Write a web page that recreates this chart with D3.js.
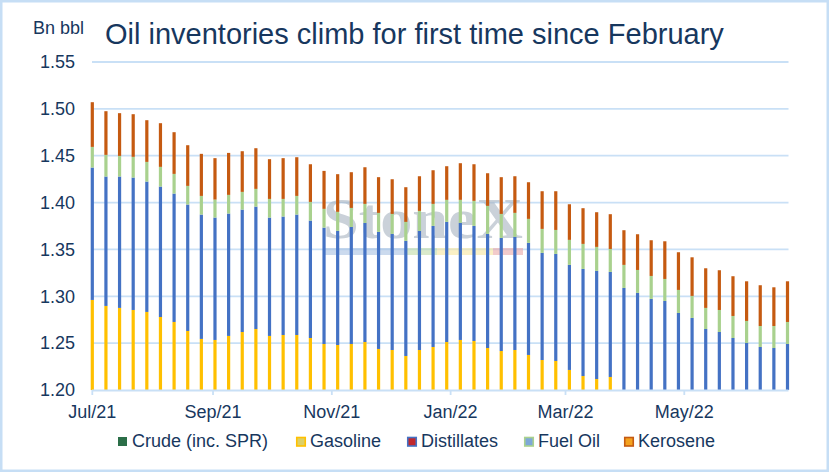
<!DOCTYPE html>
<html>
<head>
<meta charset="utf-8">
<script src="https://cdn.jsdelivr.net/npm/d3@7"></script>
<style>
  body { margin: 0; background: #fff; }
  text { font-family: "Liberation Sans", Arial, sans-serif; }
</style>
</head>
<body>
<div id="chart"></div>
<script>
// Weekly stocks, million barrels (week ending)
var weeks = [
  "2021-07-02","2021-07-09","2021-07-16","2021-07-23","2021-07-30","2021-08-06","2021-08-13","2021-08-20",
  "2021-08-27","2021-09-03","2021-09-10","2021-09-17","2021-09-24","2021-10-01","2021-10-08","2021-10-15",
  "2021-10-22","2021-10-29","2021-11-05","2021-11-12","2021-11-19","2021-11-26","2021-12-03","2021-12-10",
  "2021-12-17","2021-12-24","2021-12-31","2022-01-07","2022-01-14","2022-01-21","2022-01-28","2022-02-04",
  "2022-02-11","2022-02-18","2022-02-25","2022-03-04","2022-03-11","2022-03-18","2022-03-25","2022-04-01",
  "2022-04-08","2022-04-15","2022-04-22","2022-04-29","2022-05-06","2022-05-13","2022-05-20","2022-05-27",
  "2022-06-03","2022-06-10","2022-06-17","2022-06-24"
];

var crude = [
  1059.1, 1053.7, 1053.1, 1052.4, 1054.3, 1050.4, 1045.6, 1041.5, 1036.5, 1038.4, 1039.2, 1039.9, 1042.6,
  1042.7, 1044.2, 1041.2, 1040.5, 1035.6, 1036.0, 1036.6, 1035.7, 1027.8, 1024.2, 1013.8, 1012.7, 1010.9,
  1010.2, 1005.4, 1002.3, 998.3, 995.6, 998.2, 997.4, 993.5, 993.0, 989.4, 984.9, 981.2, 980.4, 967.9,
  967.6, 965.2, 962.5, 956.7, 953.9, 940.1, 936.4, 929.5, 924.2, 914.4, 904.3, 911.6
];
var gasoline = [
  237.0, 236.0, 234.5, 233.0, 229.0, 227.5, 227.0, 221.5, 218.0, 215.0, 218.5, 222.0, 222.5,
  215.0, 214.5, 217.5, 215.0, 213.5, 212.0, 212.5, 215.5, 216.0, 218.5, 222.5, 230.0, 235.0,
  241.0, 248.0, 250.0, 246.5, 246.0, 244.5, 240.0, 238.5, 238.0, 232.0, 230.0, 230.5, 233.5, 231.0,
  228.0, 225.0, 227.5, 221.5, 219.0, 220.0, 219.5, 219.0, 217.0, 221.5, 229.5, 225.5
];
var distillates = [
  141.3, 138.1, 140.2, 141.3, 139.1, 139.2, 137.0, 134.9, 132.7, 130.6, 130.6, 130.6, 130.6,
  126.3, 126.4, 128.5, 125.3, 124.2, 121.8, 124.9, 127.1, 124.9, 123.9, 122.8, 127.1, 129.2,
  128.2, 124.9, 122.8, 121.8, 120.7, 120.7, 119.6, 114.3, 114.2, 112.1, 114.3, 115.4, 112.1, 110.0,
  108.0, 107.0, 105.0, 104.0, 104.0, 105.0, 106.0, 107.0, 109.0, 110.0, 111.0, 112.0
];
var fuelOil = [
  22.0, 23.1, 22.0, 22.1, 21.0, 21.0, 21.0, 19.9, 19.9, 19.2, 19.9, 18.9, 18.9,
  19.9, 18.8, 19.9, 19.9, 20.0, 20.3, 20.3, 20.3, 20.3, 21.3, 20.3, 21.3, 23.5,
  23.5, 24.6, 26.7, 29.9, 25.6, 25.6, 25.6, 25.6, 25.6, 26.7, 26.7, 25.6, 24.5, 24.6,
  24.5, 24.5, 23.5, 24.6, 23.5, 22.5, 23.5, 23.5, 23.5, 22.4, 23.5, 23.5
];
var kerosene = [
  47.7, 46.6, 45.6, 45.5, 44.5, 46.6, 44.5, 43.4, 44.9, 44.2, 44.8, 43.4, 43.4,
  42.4, 43.5, 41.3, 40.2, 40.5, 40.2, 38.1, 39.1, 38.1, 37.0, 37.0, 37.0, 35.9,
  35.9, 39.1, 39.1, 34.8, 39.2, 39.1, 39.1, 40.2, 41.3, 38.0, 38.1, 37.0, 37.1, 37.0,
  38.1, 38.1, 40.2, 40.2, 41.2, 42.3, 42.4, 42.4, 42.3, 43.5, 41.3, 43.4
];

var seriesNames = ["Crude (inc. SPR)", "Gasoline", "Distillates", "Fuel Oil", "Kerosene"];
var yTicks = [1.20, 1.25, 1.30, 1.35, 1.40, 1.45, 1.50, 1.55];
var xTickDates = ["2021-07-02", "2021-09-02", "2021-11-02", "2022-01-02", "2022-03-02", "2022-05-02"];
var xTickLabels = ["Jul/21", "Sep/21", "Nov/21", "Jan/22", "Mar/22", "May/22"];

var barColors = ["#2B6E48", "#FFC000", "#4472C4", "#A9D18E", "#C55A11"];
// Excel legend swatches: fill + border
var legendFill = ["#2B6E48", "#DDD066", "#C0282D", "#7EA8D8", "#F4A21E"];
var legendStroke = [null, "#FFC000", "#4472C4", "#A9D18E", "#C55A11"];
var legendX = [118, 296, 407, 524, 624];

var width = 829, height = 472;
var margin = { top: 62, right: 41, bottom: 82, left: 92 };
var textColor = "#17375E";
var gridColor = "#C9E0F6";

var parseDate = d3.utcParse("%Y-%m-%d");

// build table for the stack
var keys = ["crude", "gasoline", "distillates", "fuelOil", "kerosene"];
var table = weeks.map(function(w, i) {
  return {
    date: parseDate(w),
    crude: crude[i] / 1000,
    gasoline: gasoline[i] / 1000,
    distillates: distillates[i] / 1000,
    fuelOil: fuelOil[i] / 1000,
    kerosene: kerosene[i] / 1000
  };
});
var stacked = d3.stack().keys(keys)(table);

var svg = d3.select("#chart")
  .append("svg")
  .attr("width", width)
  .attr("height", height);

svg.append("rect")
  .attr("x", 0).attr("y", 0)
  .attr("width", width).attr("height", height)
  .attr("fill", "#fff");

// outer frame
svg.append("rect")
  .attr("x", 1.25).attr("y", 1.25)
  .attr("width", width - 2.5).attr("height", height - 2.5)
  .attr("fill", "none")
  .attr("stroke", "#C6DEF5")
  .attr("stroke-width", 2.5);

var x = d3.scaleUtc()
  .domain([table[0].date, table[table.length - 1].date])
  .range([margin.left + 0.3, width - margin.right - 0.5]);

var y = d3.scaleLinear()
  .domain([1.20, 1.55])
  .range([height - margin.bottom, margin.top]);

// gridlines
svg.append("g")
  .selectAll("line")
  .data(yTicks.slice(1))
  .enter()
  .append("line")
  .attr("x1", margin.left)
  .attr("x2", width - margin.right + 0.5)
  .attr("y1", d => y(d))
  .attr("y2", d => y(d))
  .attr("stroke", gridColor)
  .attr("stroke-width", 1.8);

// y labels
svg.append("g")
  .selectAll("text")
  .data(yTicks)
  .enter()
  .append("text")
  .attr("x", 75)
  .attr("y", d => y(d))
  .attr("dy", "0.35em")
  .attr("text-anchor", "end")
  .attr("font-size", 18)
  .attr("fill", textColor)
  .text(d => d.toFixed(2));

svg.append("text")
  .attr("x", 33)
  .attr("y", 34)
  .attr("font-size", 18)
  .attr("fill", textColor)
  .text("Bn bbl");

svg.append("text")
  .attr("x", 105)
  .attr("y", 44)
  .attr("font-size", 29)
  .attr("fill", textColor)
  .text("Oil inventories climb for first time since February");

// watermark
var wm = svg.append("g").attr("opacity", 0.6);
wm.append("text")
  .attr("x", 323)
  .attr("y", 238)
  .style("font-family", "'Liberation Serif', 'DejaVu Serif', serif")
  .attr("font-weight", "bold")
  .attr("font-size", 56)
  .attr("textLength", 200)
  .attr("lengthAdjust", "spacingAndGlyphs")
  .attr("fill", "#A7B3C0")
  .text("StoneX");
var wmBands = [[323, 407, "#A9C3E3"], [407, 437, "#C3DDAA"], [437, 493, "#F8E7A0"], [493, 523, "#EBA9A9"]];
wm.selectAll("rect")
  .data(wmBands)
  .enter()
  .append("rect")
  .attr("x", d => d[0])
  .attr("y", 248)
  .attr("width", d => d[1] - d[0])
  .attr("height", 7)
  .attr("fill", d => d[2]);

// bars
svg.append("clipPath")
  .attr("id", "plotClip")
  .append("rect")
  .attr("x", 0)
  .attr("y", margin.top)
  .attr("width", width)
  .attr("height", height - margin.bottom - margin.top);

var barW = 3.2;
var barsGroup = svg.append("g").attr("clip-path", "url(#plotClip)");
barsGroup.selectAll("g")
  .data(stacked)
  .enter()
  .append("g")
  .attr("fill", (d, i) => barColors[i])
  .selectAll("rect")
  .data(d => d)
  .enter()
  .append("rect")
  .attr("x", d => x(d.data.date) - barW / 2)
  .attr("width", barW)
  .attr("y", d => y(Math.max(d[1], 1.20)))
  .attr("height", d => Math.max(0, y(Math.max(d[0], 1.20)) - y(Math.max(d[1], 1.20))));

// x axis
svg.append("line")
  .attr("x1", margin.left)
  .attr("x2", width - margin.right + 0.5)
  .attr("y1", y(1.20) + 0.5)
  .attr("y2", y(1.20) + 0.5)
  .attr("stroke", gridColor)
  .attr("stroke-width", 2);

var xTicks = xTickDates.map(function(d, i) { return { date: parseDate(d), label: xTickLabels[i] }; });
var tickG = svg.append("g");
tickG.selectAll("line")
  .data(xTicks)
  .enter()
  .append("line")
  .attr("x1", d => x(d.date))
  .attr("x2", d => x(d.date))
  .attr("y1", y(1.20))
  .attr("y2", y(1.20) + 5)
  .attr("stroke", gridColor)
  .attr("stroke-width", 1.8);
tickG.selectAll("text")
  .data(xTicks)
  .enter()
  .append("text")
  .attr("x", d => x(d.date))
  .attr("y", 418)
  .attr("text-anchor", "middle")
  .attr("font-size", 18)
  .attr("fill", textColor)
  .text(d => d.label);

// legend
var legend = svg.append("g")
  .selectAll("g")
  .data(seriesNames)
  .enter()
  .append("g")
  .attr("transform", (d, i) => "translate(" + legendX[i] + ",0)");
legend.append("rect")
  .attr("x", (d, i) => legendStroke[i] ? 0.75 : 0)
  .attr("y", (d, i) => legendStroke[i] ? 437.5 : 437)
  .attr("width", (d, i) => legendStroke[i] ? 8.5 : 9)
  .attr("height", (d, i) => legendStroke[i] ? 8.5 : 9)
  .attr("fill", (d, i) => legendFill[i])
  .attr("stroke", (d, i) => legendStroke[i] || "none")
  .attr("stroke-width", 1.6);
legend.append("text")
  .attr("x", 14)
  .attr("y", 447)
  .attr("font-size", 18)
  .attr("fill", textColor)
  .text(d => d);
</script>
</body>
</html>
